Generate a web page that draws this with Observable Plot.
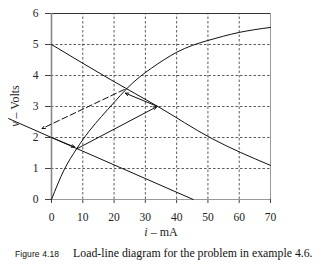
<!DOCTYPE html>
<html>
<head>
<meta charset="utf-8">
<script src="https://cdn.jsdelivr.net/npm/d3@7"></script>
<script src="https://cdn.jsdelivr.net/npm/@observablehq/plot@0.6"></script>
<style>
  body { margin: 0; background: #fff; }
  #wrap { width: 325px; height: 275px; position: relative; overflow: hidden; }
  #cap { position: absolute; left: 15px; top: 243px; white-space: nowrap; color: #111; }
  #cap .fig { font-family: "Liberation Sans", sans-serif; font-size: 8.5px; margin-right: 14px; letter-spacing: 0.1px; }
  #cap .txt { font-family: "Liberation Serif", serif; font-size: 11.8px; }
</style>
</head>
<body>
<div id="wrap"></div>
<script>
// ---- data ----
const xTicks = [0, 10, 20, 30, 40, 50, 60, 70];
const yTicks = [0, 1, 2, 3, 4, 5, 6];
const xGrid = [10, 20, 30, 40, 50, 60];
const yGrid = [1, 2, 3, 4, 5];

// device characteristic curve (i in mA, v in volts)
const curveI = [0, 4, 8, 12, 16, 20, 24, 28, 32, 36, 40, 45, 50, 55, 60, 65, 70];
const curveV = [0, 0.95, 1.63, 2.2, 2.68, 3.13, 3.57, 3.94, 4.24, 4.51, 4.75, 4.97, 5.13, 5.27, 5.39, 5.48, 5.55];

// load line 1 (5 V source)
const load1I = [0, 19, 34, 51, 70];
const load1V = [5, 3.86, 3.0, 1.98, 1.1];

// load line 2 (2 V source)
const load2I = [-13.7, 0, 45.3];
const load2V = [2.61, 2.0, 0];

// solid arrows: start (i,v) -> end (i,v)
const arrowI1 = [0.3, 8.0, 33.9];
const arrowV1 = [1.99, 1.63, 3.0];
const arrowI2 = [7.4, 33.6, 23.6];
const arrowV2 = [1.69, 2.99, 3.43];

// dashed arrow
const dashI1 = [23.3], dashV1 = [3.55];
const dashI2 = [-3.0], dashV2 = [2.29];

// ---- build tables ----
const curve = curveI.map((i, k) => ({i, v: curveV[k]}));
const load1 = load1I.map((i, k) => ({i, v: load1V[k]}));
const load2 = load2I.map((i, k) => ({i, v: load2V[k]}));
const arrows = arrowI1.map((d, k) => ({x1: d, y1: arrowV1[k], x2: arrowI2[k], y2: arrowV2[k]}));
const dashArrows = dashI1.map((d, k) => ({x1: d, y1: dashV1[k], x2: dashI2[k], y2: dashV2[k]}));

const chart = Plot.plot({
  width: 325,
  height: 240,
  marginLeft: 51,
  marginRight: 55,
  marginTop: 13,
  marginBottom: 41,
  style: { fontFamily: "Liberation Serif, serif", fontSize: "11.5px", color: "#222", background: "transparent" },
  x: { domain: [0, 70] },
  y: { domain: [0, 6] },
  marks: [
    Plot.ruleX(xGrid, { y1: 0, y2: 6, stroke: "#333", strokeWidth: 0.8, strokeDasharray: "2.5,2" }),
    Plot.ruleY(yGrid, { x1: 0, x2: 70, stroke: "#333", strokeWidth: 0.8, strokeDasharray: "2.5,2" }),
    Plot.axisX({ ticks: xTicks, tickSize: 4, tickPadding: 9, label: null, stroke: "#444", tickFormat: d => String(d) }),
    Plot.axisY({ ticks: yTicks, tickSize: 6, tickPadding: 7, label: null, stroke: "#444", tickFormat: d => String(d) }),
    Plot.ruleY([6], { x1: 0, x2: 70, stroke: "#333", strokeWidth: 1 }),
    Plot.ruleX([70], { y1: 0, y2: 6, stroke: "#999", strokeWidth: 1 }),
    Plot.ruleY([0], { x1: 0, x2: 70, stroke: "#999", strokeWidth: 1.2 }),
    Plot.ruleX([0], { y1: 0, y2: 6, stroke: "#888", strokeWidth: 1.6 }),
    Plot.line(curve, { x: "i", y: "v", curve: "monotone-x", stroke: "#111", strokeWidth: 1 }),
    Plot.line(load1, { x: "i", y: "v", curve: "monotone-x", stroke: "#111", strokeWidth: 1 }),
    Plot.line(load2, { x: "i", y: "v", stroke: "#111", strokeWidth: 1 }),
    Plot.arrow(arrows, { x1: "x1", y1: "y1", x2: "x2", y2: "y2", stroke: "#111", strokeWidth: 1, headLength: 5, headAngle: 50 }),
    Plot.arrow(dashArrows, { x1: "x1", y1: "y1", x2: "x2", y2: "y2", stroke: "#111", strokeWidth: 1, headLength: 5, headAngle: 50, strokeDasharray: "6,3" })
  ]
});

document.getElementById("wrap").appendChild(chart);

// axis titles with italic variable names
const svg = d3.select(chart);
const xl = svg.append("text")
  .attr("x", 161).attr("y", 236)
  .attr("text-anchor", "middle")
  .attr("font-family", "Liberation Serif, serif").attr("font-size", 12).attr("fill", "#222");
xl.append("tspan").attr("font-style", "italic").text("i");
xl.append("tspan").text(" \u2013 mA");

const yl = svg.append("text")
  .attr("transform", "translate(19,106) rotate(-90)")
  .attr("text-anchor", "middle")
  .attr("font-family", "Liberation Serif, serif").attr("font-size", 12).attr("fill", "#222");
yl.append("tspan").attr("font-style", "italic").text("v");
yl.append("tspan").text(" \u2013 Volts");

// caption
const cap = document.createElement("div");
cap.id = "cap";
cap.innerHTML = '<span class="fig">Figure 4.18</span><span class="txt">Load-line diagram for the problem in example 4.6.</span>';
document.getElementById("wrap").appendChild(cap);
</script>
</body>
</html>
